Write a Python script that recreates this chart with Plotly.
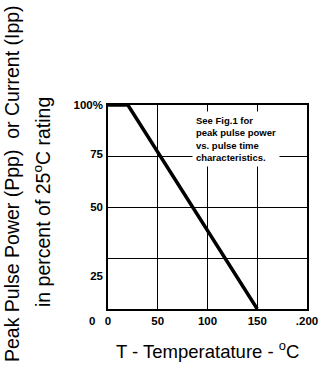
import plotly.graph_objects as go

# ---- data ----
temperature = [0, 20, 150]          # deg C
rating_pct = [100, 100, 0]          # percent of 25C rating

x_tick_vals = [0, 50, 100, 150, 200]
x_tick_text = ["0", "50", "100", "150", ".200"]

y_grid_vals = [25, 50, 75]
y_label_vals = [100, 76, 50, 16]
y_label_text = ["100%", "75", "50", "25"]
y_corner_label = "0"

note_text = "See Fig.1 for<br>peak pulse power<br>vs. pulse time<br>characteristics."
x_title = "T - Temperatature - <sup>o</sup>C"
y_title_1 = "Peak Pulse Power (Ppp)  or Current (Ipp)"
y_title_2 = "in percent of 25<sup>o</sup>C rating"

FONT = "Liberation Sans, Arial, sans-serif"

fig = go.Figure()
fig.add_trace(go.Scatter(x=temperature, y=rating_pct, mode="lines",
                         line=dict(color="black", width=3.5),
                         hoverinfo="skip", showlegend=False))
fig.add_trace(go.Scatter(x=[0], y=[0], yaxis="y2", mode="markers",
                         marker=dict(opacity=0), hoverinfo="skip", showlegend=False))

fig.update_layout(
    width=319, height=368,
    margin=dict(l=108, r=12, t=105, b=59, autoexpand=False),
    paper_bgcolor="white", plot_bgcolor="white",
    font=dict(family=FONT, color="black", size=11),
    xaxis=dict(range=[0, 200], tickvals=x_tick_vals, ticktext=x_tick_text,
               showgrid=True, gridcolor="black", gridwidth=1,
               showline=True, mirror=True, linecolor="black", linewidth=1.5,
               zeroline=False, ticks="", ticklabelstandoff=0, automargin=False,
               ticklabeloverflow="allow",
               tickfont=dict(size=11.5, family=FONT, weight="bold")),
    yaxis=dict(range=[0, 100], tickvals=y_grid_vals, showticklabels=False,
               showgrid=True, gridcolor="black", gridwidth=1,
               showline=True, mirror=True, linecolor="black", linewidth=1.5,
               zeroline=False, ticks="", automargin=False),
    yaxis2=dict(range=[0, 100], overlaying="y", side="left",
                tickvals=y_label_vals, ticktext=y_label_text,
                showgrid=False, zeroline=False, showline=False, ticks="",
                ticklabelstandoff=4, automargin=False,
                ticklabeloverflow="allow",
                tickfont=dict(size=11.5, family=FONT, weight="bold")),
)

# corner "0" label
fig.add_annotation(x=0, y=0, xref="paper", yref="paper",
                   text=y_corner_label, showarrow=False, xanchor="right",
                   yanchor="middle", xshift=-11, yshift=-12,
                   font=dict(size=11.5, family=FONT, weight="bold"))

# note box
fig.add_annotation(x=0.42, y=0.97, xref="paper", yref="paper",
                   text=note_text, showarrow=False, xanchor="left", yanchor="top",
                   align="left", bgcolor="white", borderpad=3,
                   font=dict(size=9.5, family=FONT, weight="bold"))

# x title
fig.add_annotation(x=0.5, y=0, xref="paper", yref="paper", yanchor="top",
                   yshift=-27, text=x_title, showarrow=False,
                   font=dict(size=18.5, family=FONT))

# y titles (two rotated lines)
fig.add_annotation(x=0, y=0.5, xref="paper", yref="paper", xanchor="center",
                   xshift=-96, yshift=23, textangle=-90, text=y_title_1,
                   showarrow=False, font=dict(size=19.5, family=FONT))
fig.add_annotation(x=0, y=0.5, xref="paper", yref="paper", xanchor="center",
                   xshift=-66, yshift=5, textangle=-90, text=y_title_2,
                   showarrow=False, font=dict(size=19.5, family=FONT))

fig.write_html("out.html", config={"displayModeBar": False},
               post_script="document.body.style.margin='0';")
